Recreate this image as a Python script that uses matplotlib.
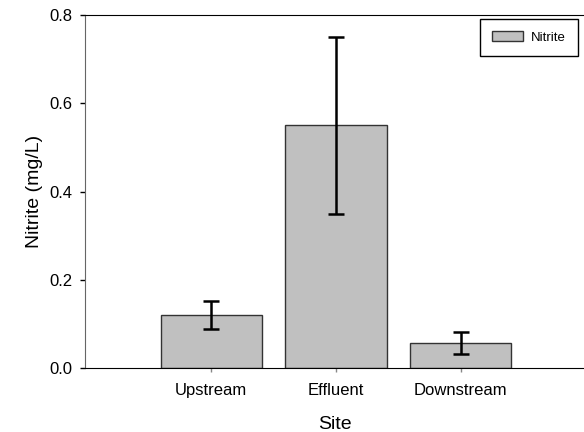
import matplotlib
matplotlib.use("Agg")
import matplotlib.pyplot as plt

sites = ["Upstream", "Effluent", "Downstream"]
nitrite = [0.121, 0.55, 0.057]
errors = [0.032, 0.2, 0.024]

plt.rcParams['font.family'] = ['Liberation Sans', 'DejaVu Sans']

fig = plt.figure(figsize=(5.84, 4.32), dpi=100)
ax = fig.add_axes([0.1464, 0.148, 0.8536, 0.817])

x = list(range(len(sites)))
ax.bar(x, nitrite, width=0.816, color="#c0c0c0", edgecolor="#333333",
       linewidth=1.0, label="Nitrite", zorder=2)
ax.errorbar(x, nitrite, yerr=errors, fmt="none", ecolor="black",
            elinewidth=1.8, capsize=6, capthick=1.8, zorder=3)

ax.set_xlim(-1.01, 2.99)
ax.set_ylim(0, 0.8)
ax.set_xticks(x)
ax.set_xticklabels(sites, fontsize=12)
ax.set_yticks([0.0, 0.2, 0.4, 0.6, 0.8])
ax.set_yticklabels(["0.0", "0.2", "0.4", "0.6", "0.8"], fontsize=12)
ax.tick_params(axis="y", direction="out", length=3.6, width=1, pad=6)
ax.tick_params(axis="x", direction="out", length=3, width=1, color="#888888", pad=8)

ax.spines["right"].set_visible(False)
ax.spines["left"].set_color("#666666")

ax.set_xlabel("Site", fontsize=14, labelpad=13)
ax.set_ylabel("Nitrite (mg/L)", fontsize=14, labelpad=4)

leg = ax.legend(loc="upper right", bbox_to_anchor=(0.988, 0.989), borderaxespad=0,
                fontsize=9.5, fancybox=False, framealpha=1, edgecolor="black",
                handlelength=2.4, handleheight=0.83, handletextpad=0.6,
                borderpad=0.9)
leg.get_frame().set_linewidth(1.0)

fig.savefig("out.png", dpi=100)
